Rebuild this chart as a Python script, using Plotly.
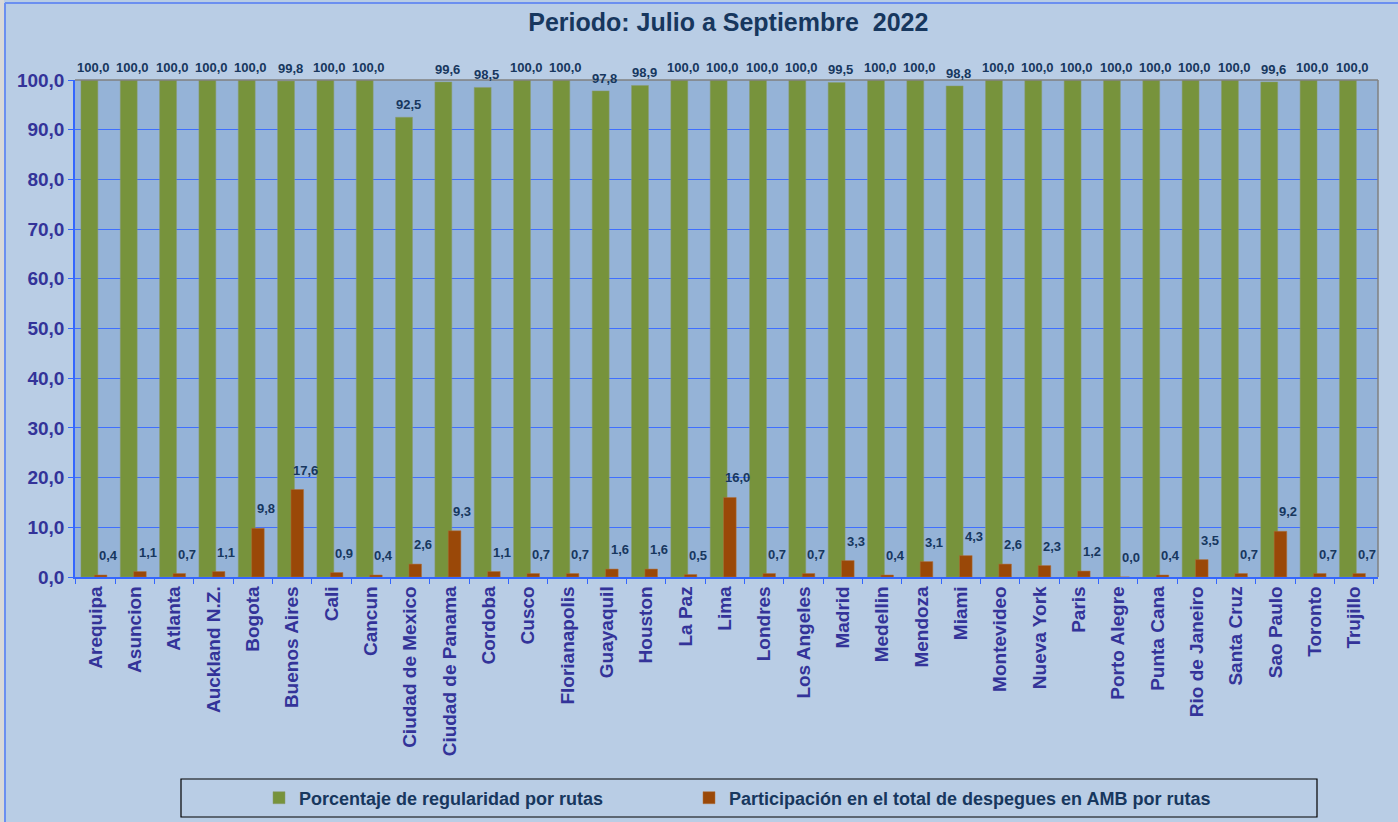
import plotly.graph_objects as go

cities = ["Arequipa", "Asuncion", "Atlanta", "Auckland N.Z.", "Bogota", "Buenos Aires", "Cali", "Cancun",
          "Ciudad de Mexico", "Ciudad de Panama", "Cordoba", "Cusco", "Florianapolis", "Guayaquil", "Houston",
          "La Paz", "Lima", "Londres", "Los Angeles", "Madrid", "Medellin", "Mendoza", "Miami", "Montevideo",
          "Nueva York", "Paris", "Porto Alegre", "Punta Cana", "Rio de Janeiro", "Santa Cruz", "Sao Paulo",
          "Toronto", "Trujillo"]
regularidad = [100.0, 100.0, 100.0, 100.0, 100.0, 99.8, 100.0, 100.0, 92.5, 99.6, 98.5, 100.0, 100.0, 97.8, 98.9,
               100.0, 100.0, 100.0, 100.0, 99.5, 100.0, 100.0, 98.8, 100.0, 100.0, 100.0, 100.0, 100.0, 100.0,
               100.0, 99.6, 100.0, 100.0]
participacion = [0.4, 1.1, 0.7, 1.1, 9.8, 17.6, 0.9, 0.4, 2.6, 9.3, 1.1, 0.7, 0.7, 1.6, 1.6, 0.5, 16.0, 0.7, 0.7,
                 3.3, 0.4, 3.1, 4.3, 2.6, 2.3, 1.2, 0.0, 0.4, 3.5, 0.7, 9.2, 0.7, 0.7]

GREEN = "#77933C"
BROWN = "#9A4808"
LABEL = "#17375E"
AXIS_TXT = "#333399"
FONT = "Liberation Sans, Arial, sans-serif"

W, H = 1398, 822
L, R, T, B = 75, 20, 80, 245
PW, PH = W - L - R, H - T - B

def px(x):
    return (x - L) / PW

def py(y):
    return (H - B - y) / PH

def fmt(v):
    return f"{v:.1f}".replace(".", ",")

fig = go.Figure()
fig.add_trace(go.Bar(
    x=cities, y=regularidad, name="Porcentaje de regularidad por rutas",
    marker=dict(color=GREEN, line=dict(color="#8A9A70", width=0.5)),
    width=0.43, offset=-0.37, legend="legend",
))
fig.add_trace(go.Bar(
    x=cities, y=participacion, name="Participación en el total de despegues en AMB por rutas",
    marker=dict(color=BROWN, line=dict(color="#B0703A", width=0.5)),
    width=0.32, offset=-0.03, legend="legend2",
))

annotations = []
for c, v in zip(cities, regularidad):
    annotations.append(dict(x=c, y=v, xref="x", yref="y", text=fmt(v), showarrow=False,
                            xanchor="center", yanchor="bottom", xshift=-2, yshift=3,
                            font=dict(family=FONT, size=13, color=LABEL, weight="bold")))
for c, v in zip(cities, participacion):
    annotations.append(dict(x=c, y=v, xref="x", yref="y", text=fmt(v), showarrow=False,
                            xanchor="center", yanchor="bottom", xshift=13, yshift=10,
                            font=dict(family=FONT, size=13, color=LABEL, weight="bold")))

legend_font = dict(family="Liberation Sans Narrow, Arial Narrow, Liberation Sans, sans-serif", size=18,
                   color=LABEL, weight="bold")

fig.update_layout(
    width=W, height=H,
    paper_bgcolor="#B9CDE5", plot_bgcolor="#95B3D7",
    separators=",.",
    barmode="overlay",
    margin=dict(l=L, r=R, t=T, b=B, autoexpand=False),
    title=dict(text="Periodo: Julio a Septiembre&nbsp;&nbsp;2022", x=0.521, xanchor="center", y=0.973,
               yanchor="middle", font=dict(family=FONT, size=25, color="#17375E", weight="bold")),
    showlegend=True,
    legend=dict(orientation="h", x=px(259), xanchor="left", y=py(798), yanchor="middle",
                bgcolor="rgba(0,0,0,0)", font=legend_font, itemwidth=30),
    legend2=dict(orientation="h", x=px(689), xanchor="left", y=py(798), yanchor="middle",
                 bgcolor="rgba(0,0,0,0)", font=legend_font, itemwidth=30),
    annotations=annotations,
    shapes=[
        dict(type="rect", xref="paper", yref="paper", x0=px(181), x1=px(1317),
             y0=py(817), y1=py(779), line=dict(color="black", width=1.2), layer="below"),
        dict(type="line", xref="paper", yref="paper", x0=0, x1=1, y0=1, y1=1, line=dict(color="#808080", width=1.5)),
        dict(type="line", xref="paper", yref="paper", x0=1, x1=1, y0=0, y1=1, line=dict(color="#808080", width=1.5)),
        dict(type="line", xref="paper", yref="paper", x0=px(5), x1=px(1398),
             y0=py(3), y1=py(3), line=dict(color="#6B8FF0", width=2)),
        dict(type="line", xref="paper", yref="paper", x0=px(5), x1=px(5),
             y0=py(3), y1=py(822), line=dict(color="#6B8FF0", width=2)),
        dict(type="rect", xref="paper", yref="paper", x0=px(0), x1=px(4),
             y0=py(822), y1=py(0), fillcolor="#D9D9D9", line=dict(width=0)),
    ],
)

fig.update_xaxes(
    type="category", tickangle=-90, tickson="boundaries",
    ticks="outside", ticklen=5, tickcolor="#3366FF",
    showline=True, linecolor="#3366FF", linewidth=1.5,
    showgrid=False, automargin=False,
    tickfont=dict(family=FONT, size=19, color=AXIS_TXT, weight="bold"),
)
fig.update_yaxes(
    range=[0, 100], dtick=10, tickformat=".1f",
    ticks="outside", ticklen=5, tickcolor="#3366FF",
    showline=True, linecolor="#3366FF", linewidth=1.5,
    showgrid=True, gridcolor="#3F6FFF", gridwidth=1,
    zeroline=False, automargin=False,
    tickfont=dict(family=FONT, size=19, color=AXIS_TXT, weight="bold"),
)

fig.write_html("out.html", config={"displayModeBar": False},
               post_script="document.body.style.margin='0';document.body.style.overflow='hidden';")
